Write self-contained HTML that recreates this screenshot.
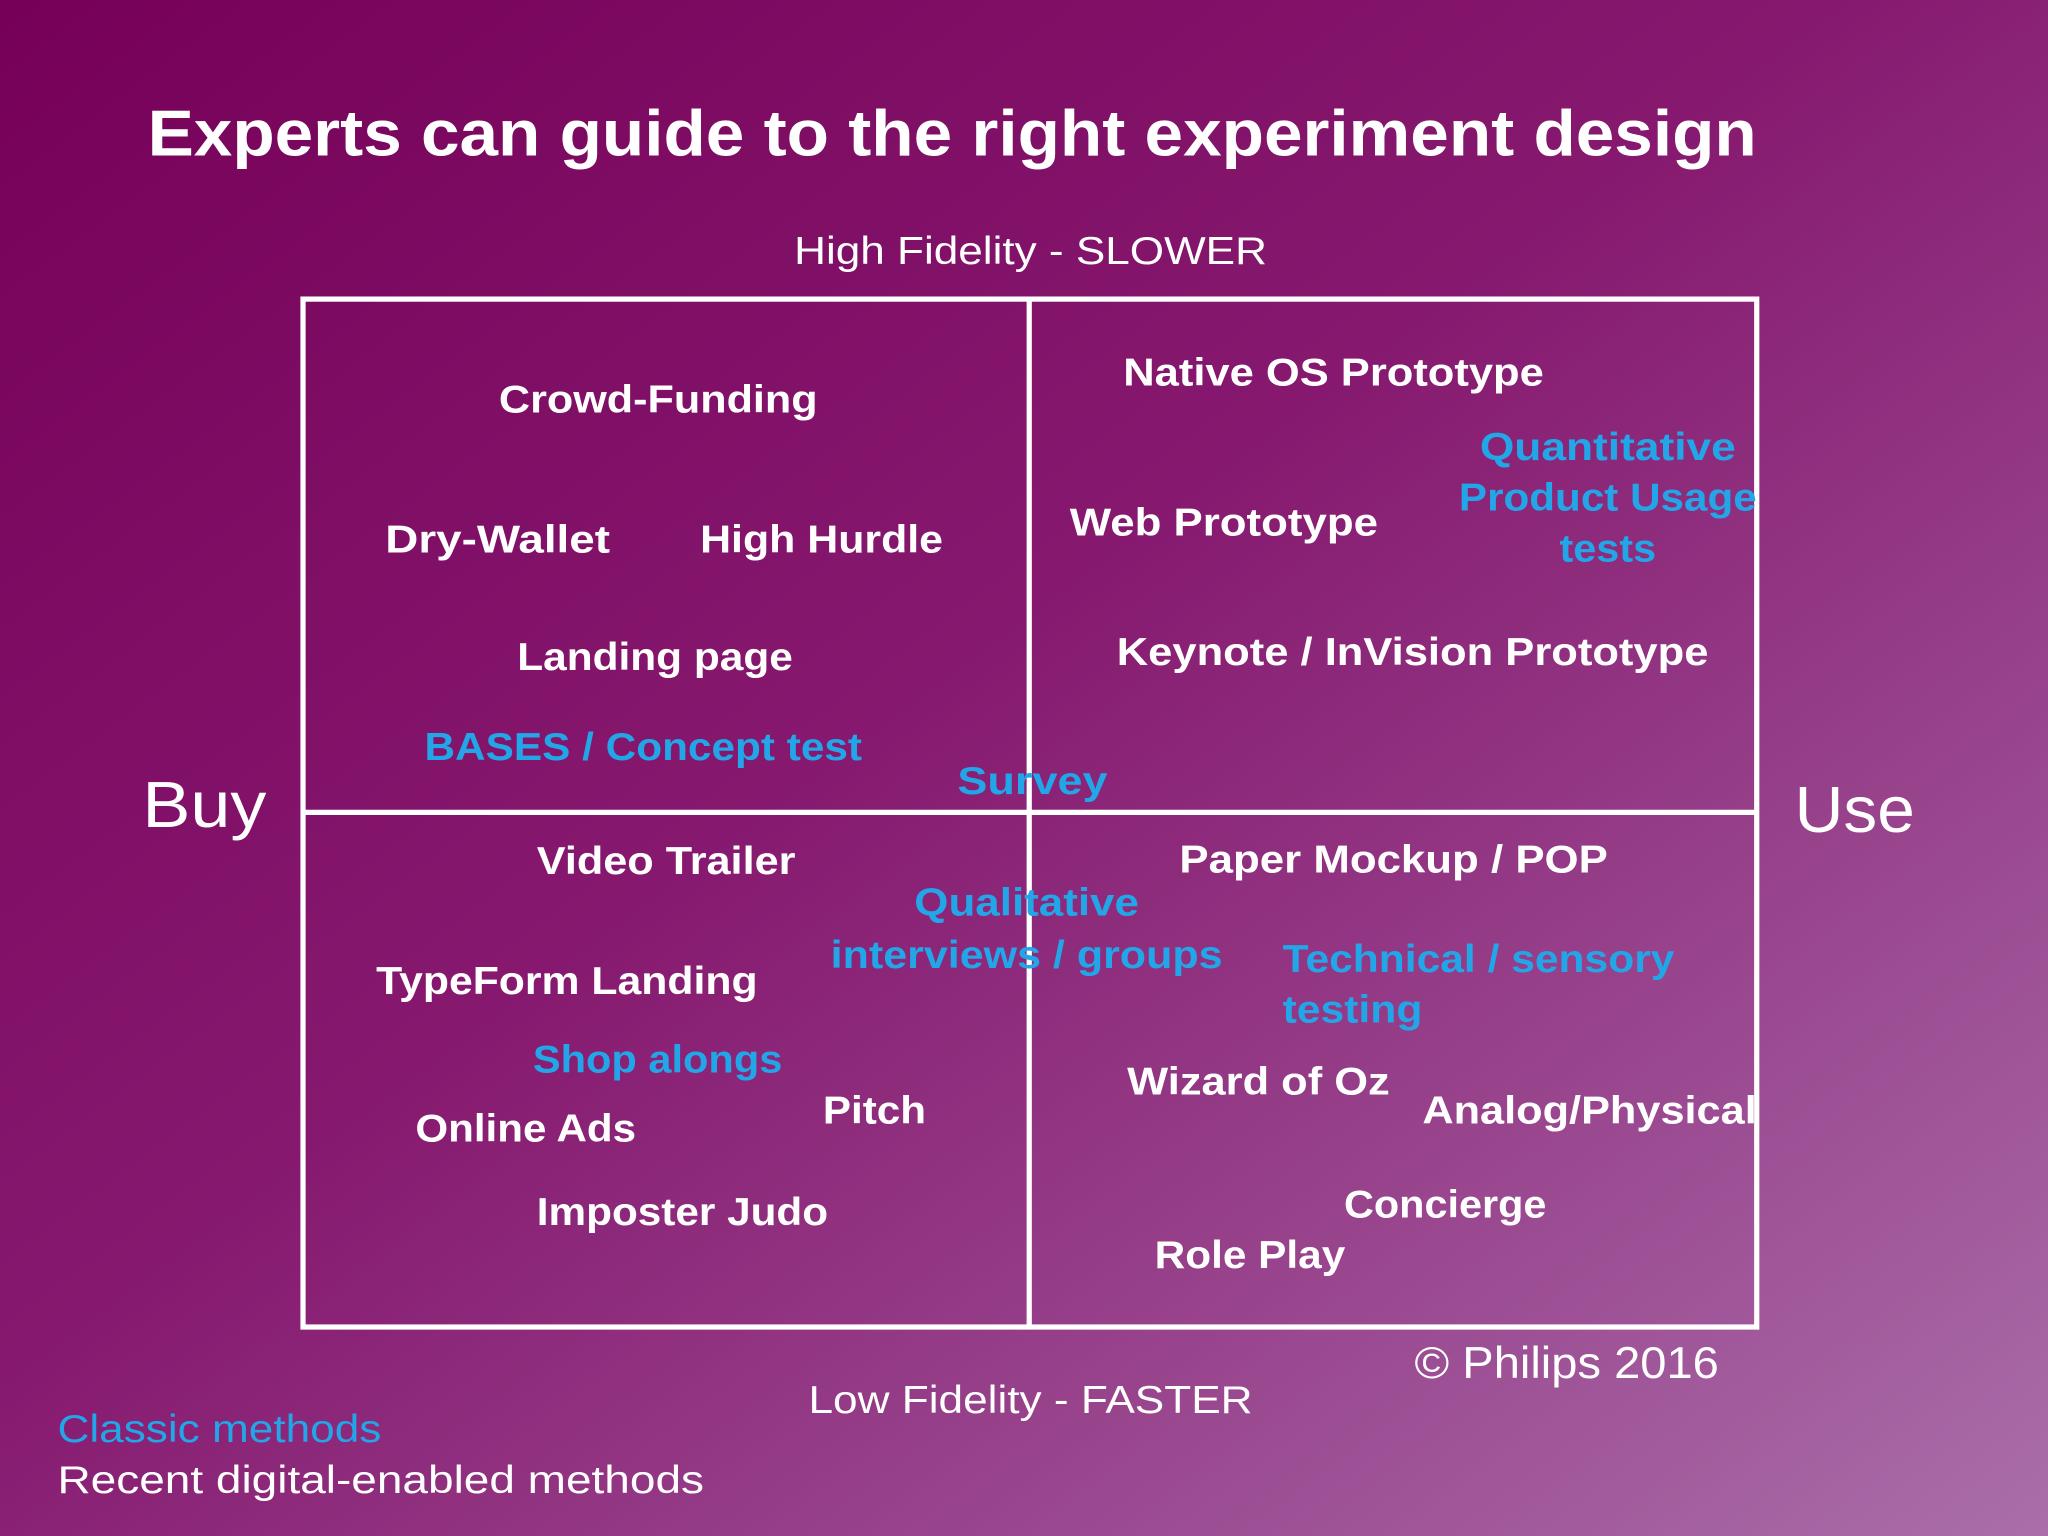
<!DOCTYPE html>
<html><head><meta charset="utf-8"><style>
html,body{margin:0;padding:0;width:2048px;height:1536px;overflow:hidden}
svg{display:block}
text{font-family:"Liberation Sans",sans-serif;fill:#fff}
.b{font-weight:bold;font-size:30px}
.c{fill:#22a6e8}
</style></head><body>
<svg width="2048" height="1536" viewBox="0 0 1568 1176">
<defs>
<linearGradient id="bg" x1="0" y1="0" x2="1" y2="1">
<stop offset="0" stop-color="#760058"/>
<stop offset="0.45" stop-color="#86196f"/>
<stop offset="1" stop-color="#aa6eaa"/>
</linearGradient>
</defs>
<rect width="1568" height="1176" fill="url(#bg)"/>
<text x="113" y="119" font-size="50" font-weight="bold" textLength="1232" lengthAdjust="spacingAndGlyphs">Experts can guide to the right experiment design</text>
<text x="789" y="202" font-size="30" text-anchor="middle" textLength="362" lengthAdjust="spacingAndGlyphs">High Fidelity - SLOWER</text>
<text x="789" y="1082" font-size="30" text-anchor="middle" textLength="340" lengthAdjust="spacingAndGlyphs">Low Fidelity - FASTER</text>
<text x="109" y="633" font-size="50" textLength="95" lengthAdjust="spacingAndGlyphs">Buy</text>
<text x="1374" y="637" font-size="50" textLength="92" lengthAdjust="spacingAndGlyphs">Use</text>
<g stroke="#fff" stroke-width="4" fill="none">
<rect x="232" y="229" width="1113" height="787"/>
<line x1="788" y1="229" x2="788" y2="1016"/>
<line x1="232" y1="622" x2="1345" y2="622"/>
</g>
<g>
<text class="b" x="382" y="316" textLength="244" lengthAdjust="spacingAndGlyphs">Crowd-Funding</text>
<text class="b" x="295" y="423" textLength="172" lengthAdjust="spacingAndGlyphs">Dry-Wallet</text>
<text class="b" x="536" y="423" textLength="186" lengthAdjust="spacingAndGlyphs">High Hurdle</text>
<text class="b" x="396" y="513" textLength="211" lengthAdjust="spacingAndGlyphs">Landing page</text>
<text class="b c" x="325" y="582" textLength="335" lengthAdjust="spacingAndGlyphs">BASES / Concept test</text>
<text class="b c" x="733" y="608" textLength="115" lengthAdjust="spacingAndGlyphs">Survey</text>
<text class="b" x="860" y="295" textLength="322" lengthAdjust="spacingAndGlyphs">Native OS Prototype</text>
<text class="b c" x="1231" y="352" text-anchor="middle" textLength="196" lengthAdjust="spacingAndGlyphs">Quantitative</text>
<text class="b c" x="1231" y="391" text-anchor="middle" textLength="228" lengthAdjust="spacingAndGlyphs">Product Usage</text>
<text class="b c" x="1231" y="430" text-anchor="middle" textLength="74" lengthAdjust="spacingAndGlyphs">tests</text>
<text class="b" x="819" y="410" textLength="236" lengthAdjust="spacingAndGlyphs">Web Prototype</text>
<text class="b" x="855" y="509" textLength="453" lengthAdjust="spacingAndGlyphs">Keynote / InVision Prototype</text>
<text class="b" x="411" y="669" textLength="198" lengthAdjust="spacingAndGlyphs">Video Trailer</text>
<text class="b c" x="786" y="701" text-anchor="middle" textLength="172" lengthAdjust="spacingAndGlyphs">Qualitative</text>
<text class="b c" x="786" y="741" text-anchor="middle" textLength="300" lengthAdjust="spacingAndGlyphs">interviews / groups</text>
<text class="b" x="903" y="668" textLength="328" lengthAdjust="spacingAndGlyphs">Paper Mockup / POP</text>
<text class="b" x="288" y="761" textLength="292" lengthAdjust="spacingAndGlyphs">TypeForm Landing</text>
<text class="b c" x="982" y="744" textLength="300" lengthAdjust="spacingAndGlyphs">Technical / sensory</text>
<text class="b c" x="982" y="783" textLength="107" lengthAdjust="spacingAndGlyphs">testing</text>
<text class="b c" x="408" y="821" textLength="191" lengthAdjust="spacingAndGlyphs">Shop alongs</text>
<text class="b" x="630" y="860" textLength="79" lengthAdjust="spacingAndGlyphs">Pitch</text>
<text class="b" x="318" y="874" textLength="169" lengthAdjust="spacingAndGlyphs">Online Ads</text>
<text class="b" x="863" y="838" textLength="201" lengthAdjust="spacingAndGlyphs">Wizard of Oz</text>
<text class="b" x="1089" y="860" textLength="256" lengthAdjust="spacingAndGlyphs">Analog/Physical</text>
<text class="b" x="411" y="938" textLength="223" lengthAdjust="spacingAndGlyphs">Imposter Judo</text>
<text class="b" x="1029" y="932" textLength="155" lengthAdjust="spacingAndGlyphs">Concierge</text>
<text class="b" x="884" y="971" textLength="146" lengthAdjust="spacingAndGlyphs">Role Play</text>
</g>
<text x="1083" y="1055" font-size="34" textLength="233" lengthAdjust="spacingAndGlyphs">© Philips 2016</text>
<text class="c" x="44" y="1104" font-size="30" textLength="248" lengthAdjust="spacingAndGlyphs">Classic methods</text>
<text x="44" y="1143" font-size="30" textLength="495" lengthAdjust="spacingAndGlyphs">Recent digital-enabled methods</text>
</svg>
</body></html>
